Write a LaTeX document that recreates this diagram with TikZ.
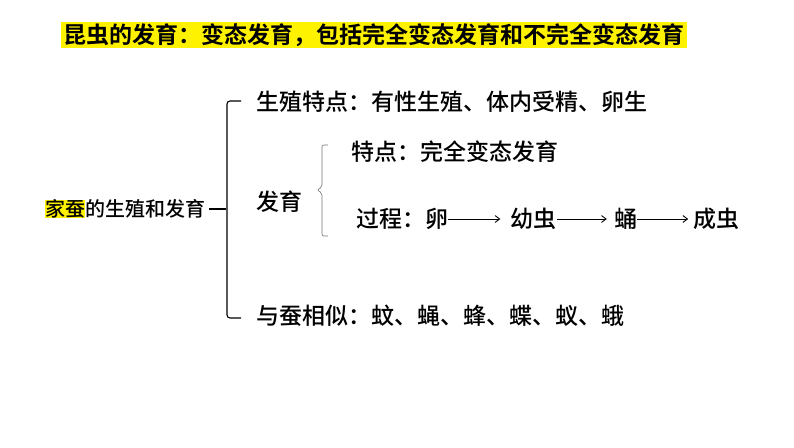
\documentclass[tikz,border=0pt]{standalone}
\usepackage{fontspec}
\newfontfamily\cjk[BoldFont={Noto Sans CJK SC Bold}]{Noto Sans CJK SC Medium}
\usetikzlibrary{arrows.meta,positioning}

\begin{document}
\begin{tikzpicture}[
  x=1pt, y=-1pt,
  font=\cjk\fontsize{23}{27}\selectfont,
  headline/.style={fill=yellow, inner xsep=2.5pt, inner ysep=1.5pt, anchor=west,
               font=\cjk\bfseries\fontsize{23}{27}\selectfont},
  entry/.style={anchor=west, inner sep=0pt},
  topic/.style={entry, font=\cjk\fontsize{20}{24}\selectfont},
  hilite/.style={fill=yellow},
  stage/.style={inner sep=0pt},
  brace/.style={line width=1.1pt, rounded corners=3pt},
  subbrace/.style={line width=0.6pt, black!55, rounded corners=2pt},
  flow/.style={-{Straight Barb[length=1.6mm, width=2.4mm]}, line width=0.9pt,
               shorten >=7pt},
]
  \useasboundingbox (0,0) rectangle (794,447);

  % Title bar across the top.
  \node[headline] (title) at (61,35)
    {昆虫的发育：变态发育，包括完全变态发育和不完全变态发育};

  % Left-hand topic with the highlighted word.
  \node[topic, hilite] (silk) at (45,209) {家蚕};
  \node[topic, right=0pt of silk] (topic) {的生殖和发育};
  \coordinate (cusp) at (226,209);
  \draw[line width=1.1pt, shorten <=3pt] (topic.east) -- (cusp);
  \draw[brace] (241,101) -| (227,318) -- (241,318);

  % Three branches of the main brace.
  \node[entry] (breed) at (256,102) {生殖特点：有性生殖、体内受精、卵生};
  \node[entry] (grow) at (256,202) {发育};
  \node[entry] (alike) at (256,316) {与蚕相似：蚊、蝇、蜂、蝶、蚁、蛾};

  % Development: small brace, feature and stages.
  \draw[subbrace] (328,145) -| (322,187) -- (317,190) -- (322,193) |- (328,236);
  \node[entry] (feature) at (351,152) {特点：完全变态发育};
  \node[entry] (egg) at (356,219) {过程：卵};
  \node[stage, right=62pt of egg] (larva) {幼虫};
  \node[stage, right=57pt of larva] (pupa) {蛹};
  \node[stage, right=56pt of pupa] (adult) {成虫};
  \draw[flow, shorten >=10pt] (egg) -- (larva);
  \draw[flow] (larva) -- (pupa);
  \draw[flow, shorten >=5pt] (pupa) -- (adult);
\end{tikzpicture}
\end{document}
